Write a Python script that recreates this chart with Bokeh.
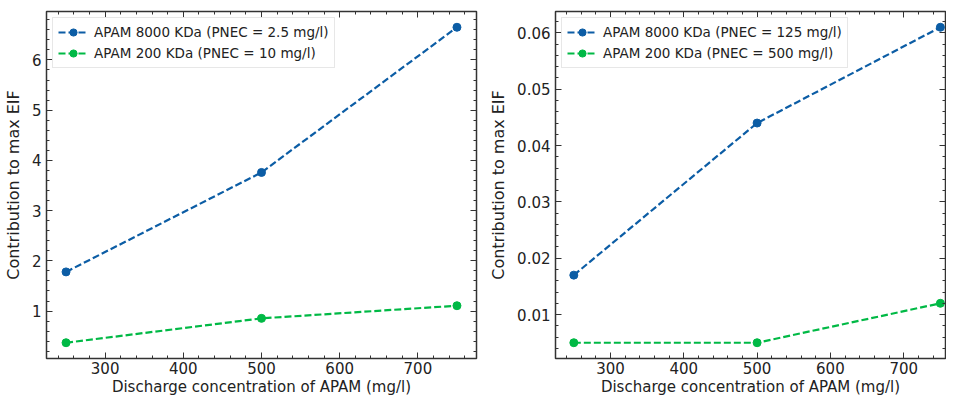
from bokeh.plotting import figure
from bokeh.layouts import row
from bokeh.models import LinearAxis, FixedTicker, Range1d, Legend, LegendItem
from bokeh.embed import file_html
from bokeh.resources import INLINE
import numpy as np

# ---- data ----
conc = [250, 500, 750]
left_8000 = [1.78, 3.76, 6.65]
left_200 = [0.37, 0.855, 1.107]
right_8000 = [0.017, 0.044, 0.061]
right_200 = [0.005, 0.005, 0.012]

x_ticks = [300, 400, 500, 600, 700]
left_yticks = [1, 2, 3, 4, 5, 6]
right_yticks = [0.01, 0.02, 0.03, 0.04, 0.05, 0.06]

left_labels = ["APAM 8000 KDa (PNEC = 2.5 mg/l)", "APAM 200 KDa (PNEC = 10 mg/l)"]
right_labels = ["APAM 8000 KDa (PNEC = 125 mg/l)", "APAM 200 KDa (PNEC = 500 mg/l)"]

x_label = "Discharge concentration of APAM (mg/l)"
y_label = "Contribution to max EIF"

BLUE = "#0C5DA5"
GREEN = "#00B945"
FONT = "DejaVu Sans"


def minor(ticks, lo, hi, n=5):
    step = (ticks[1] - ticks[0]) / n
    start = ticks[0] - step * int((ticks[0] - lo) / step + 1)
    vals = np.arange(start, hi + step, step)
    return [float(v) for v in vals if lo <= v <= hi]


def style_axis(ax, show_labels):
    ax.major_tick_in = 6
    ax.major_tick_out = 0
    ax.minor_tick_in = 3
    ax.minor_tick_out = 0
    ax.axis_line_color = None
    ax.major_tick_line_color = "#333333"
    ax.minor_tick_line_color = "#333333"
    ax.major_tick_line_width = 1
    ax.minor_tick_line_width = 1
    if show_labels:
        ax.major_label_text_font = FONT
        ax.major_label_text_font_size = "15px"
        ax.major_label_text_color = "#222222"
        ax.axis_label_text_font = FONT
        ax.axis_label_text_font_size = "15px"
        ax.axis_label_text_font_style = "normal"
        ax.axis_label_text_color = "#222222"
    else:
        ax.major_label_text_font_size = "1px"
        ax.major_label_text_color = None
        ax.major_label_standoff = 0


def make_panel(y1, y2, yticks, labels, fw, bl, br, x_end_pad):
    xlo, xhi = min(conc), max(conc)
    xpad = (xhi - xlo) * 0.05
    allv = y1 + y2
    ylo, yhi = min(allv), max(allv)
    ypad = (yhi - ylo) * 0.05
    xr = Range1d(xlo - xpad, xhi + x_end_pad)
    yr = Range1d(ylo - ypad, yhi + ypad)
    p = figure(frame_width=fw, height=398, x_range=xr, y_range=yr,
               output_backend="svg", toolbar_location=None,
               min_border_left=bl, min_border_right=br,
               min_border_top=11, min_border_bottom=0,
               x_axis_type=None, y_axis_type=None)
    p.outline_line_color = "#333333"
    p.outline_line_width = 1.5
    p.background_fill_color = "white"
    p.border_fill_color = "white"

    xt = FixedTicker(ticks=x_ticks, minor_ticks=minor(x_ticks, xr.start, xr.end))
    yt = FixedTicker(ticks=yticks, minor_ticks=minor(yticks, yr.start, yr.end))

    xb = LinearAxis(ticker=xt, axis_label=x_label)
    style_axis(xb, True)
    xb.major_label_standoff = 3
    xb.axis_label_standoff = 1
    p.add_layout(xb, "below")
    xa = LinearAxis(ticker=xt)
    style_axis(xa, False)
    p.add_layout(xa, "above")

    yl = LinearAxis(ticker=yt, axis_label=y_label)
    style_axis(yl, True)
    yl.axis_label_text_font_size = "16px"
    yl.major_label_standoff = 5
    yl.axis_label_standoff = 6
    p.add_layout(yl, "left")
    yrt = LinearAxis(ticker=yt)
    style_axis(yrt, False)
    p.add_layout(yrt, "right")

    p.xgrid.ticker = xt
    p.ygrid.ticker = yt
    for g in (p.xgrid, p.ygrid):
        g.grid_line_color = "#a8a8a8"
        g.grid_line_dash = "1 1"
        g.grid_line_width = 1

    items = []
    for ys, c, lab in ((y1, BLUE, labels[0]), (y2, GREEN, labels[1])):
        ln = p.line(conc, ys, line_color=c, line_width=2.2, line_dash="7 3")
        sc = p.scatter(conc, ys, size=8, fill_color=c, line_color=c)
        items.append(LegendItem(label=lab, renderers=[ln, sc]))

    leg = Legend(items=items, location="top_left")
    leg.margin = 6
    leg.padding = 5
    leg.spacing = 3
    leg.glyph_width = 30
    leg.glyph_height = 18
    leg.label_height = 18
    leg.label_standoff = 6
    leg.label_text_font = FONT
    leg.label_text_font_size = "13.5px"
    leg.label_text_color = "#222222"
    leg.border_line_color = "#d0d0d0"
    leg.border_line_width = 1
    leg.background_fill_alpha = 0.85
    p.add_layout(leg, "center")
    return p


p1 = make_panel(left_8000, left_200, left_yticks, left_labels, 430, 37, 5, 25)
p2 = make_panel(right_8000, right_200, right_yticks, right_labels, 390, 74, 1, 7)

layout = row(p1, p2)
open("out.html", "w").write(file_html(layout, INLINE))
